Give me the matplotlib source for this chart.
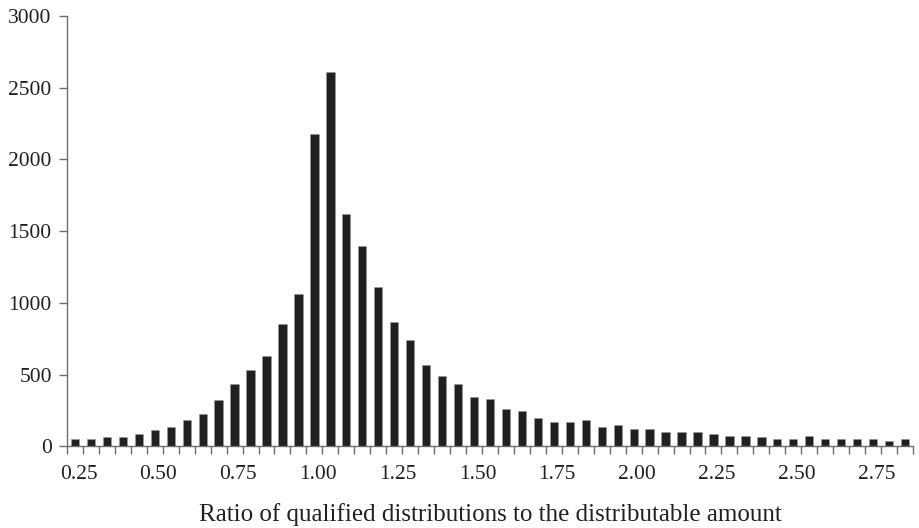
import matplotlib
matplotlib.use('Agg')
import matplotlib.pyplot as plt
import numpy as np

# ratio bins (0.05 wide) and counts
ratios = [0.25, 0.30, 0.35, 0.40, 0.45, 0.50, 0.55, 0.60, 0.65, 0.70,
          0.75, 0.80, 0.85, 0.90, 0.95, 1.00, 1.05, 1.10, 1.15, 1.20,
          1.25, 1.30, 1.35, 1.40, 1.45, 1.50, 1.55, 1.60, 1.65, 1.70,
          1.75, 1.80, 1.85, 1.90, 1.95, 2.00, 2.05, 2.10, 2.15, 2.20,
          2.25, 2.30, 2.35, 2.40, 2.45, 2.50, 2.55, 2.60, 2.65, 2.70,
          2.75, 2.80, 2.85]
counts = [51, 51, 65, 65, 88, 114, 139, 188, 225, 325,
          434, 534, 631, 856, 1065, 2176, 2612, 1622, 1397, 1114,
          865, 743, 569, 494, 434, 346, 334, 262, 248, 200,
          174, 174, 188, 137, 151, 125, 125, 100, 100, 100,
          88, 74, 74, 63, 51, 51, 74, 51, 51, 51,
          51, 37, 51]
label_every = 5
yticks = [0, 500, 1000, 1500, 2000, 2500, 3000]
xlabel = 'Ratio of qualified distributions to the distributable amount'

plt.rcParams['font.family'] = ['Liberation Serif', 'DejaVu Serif']

fig = plt.figure(figsize=(9.2, 5.28), dpi=100)
ax = fig.add_axes([0.0728, 0.1544, 0.9196, 0.8153])

pos = np.arange(len(counts))
ax.bar(pos, counts, width=0.52, color='#231f20', edgecolor='#9a9a9a', linewidth=0.4)

ax.set_xlim(-0.5, len(counts) - 0.5)
ax.set_ylim(0, 3000)

axis_col = '#6e6e6e'
for s in ['top', 'right']:
    ax.spines[s].set_visible(False)
for s in ['left', 'bottom']:
    ax.spines[s].set_color(axis_col)
    ax.spines[s].set_linewidth(1.0)

# tick marks on bin boundaries, labels every 5th bin
ax.set_xticks(np.arange(-0.5, len(counts)), minor=True)
lab_pos = pos[::label_every]
ax.set_xticks(lab_pos + 0.22)
ax.set_xticklabels(['%.2f' % ratios[i] for i in lab_pos])
ax.tick_params(axis='x', which='major', length=0, pad=13, labelsize=15.5, labelcolor='#231f20')
ax.tick_params(axis='x', which='minor', length=6, width=1.0, color=axis_col, direction='out')

ax.set_yticks(yticks)
ax.set_yticklabels([str(v) for v in yticks])
ax.tick_params(axis='y', length=6, width=1.0, color=axis_col, pad=5, labelsize=15.5, labelcolor='#231f20')

ax.set_xlabel(xlabel, fontsize=18, color='#231f20', labelpad=14)

fig.savefig('out.png', dpi=100)
